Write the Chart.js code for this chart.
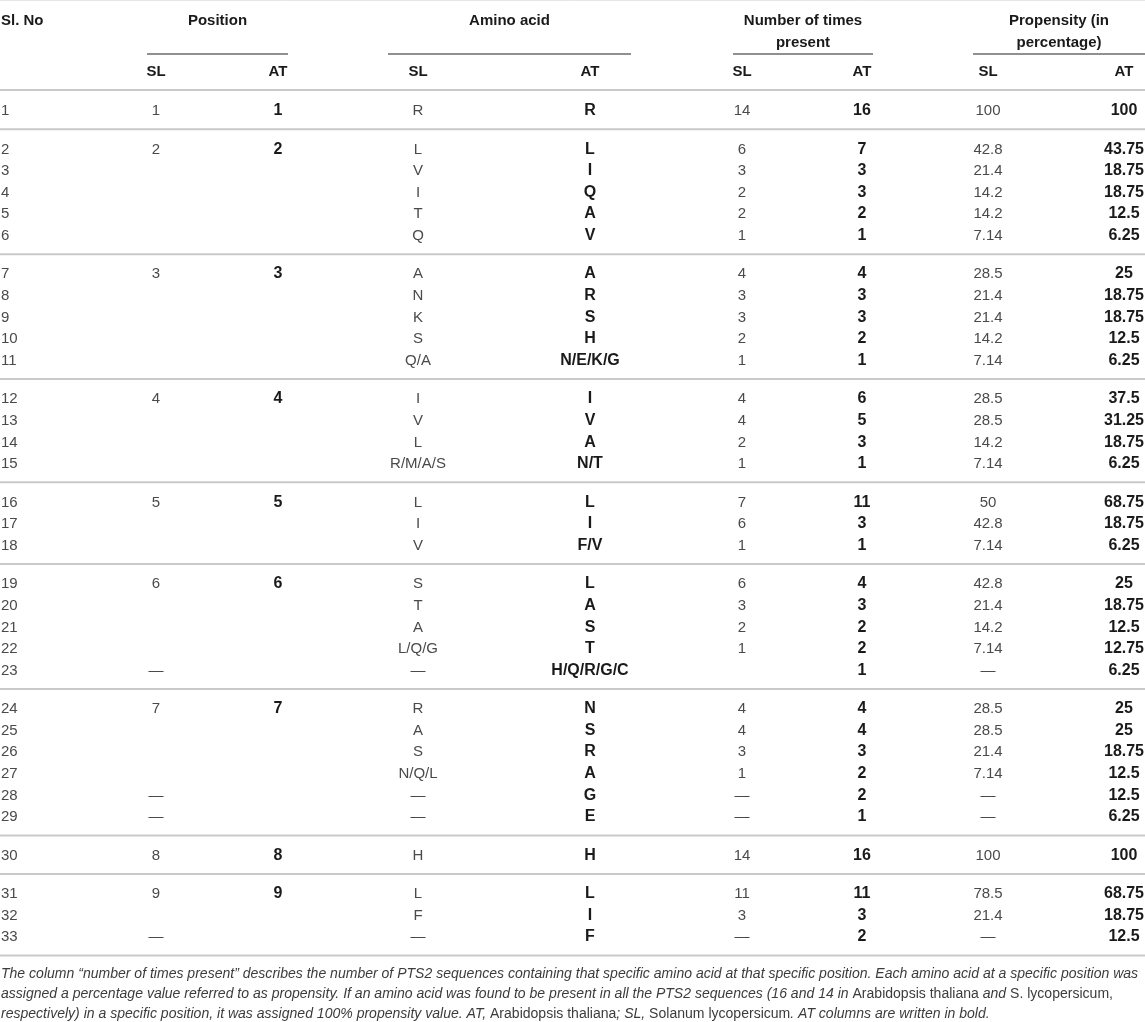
<!DOCTYPE html>
<html>
<head>
<meta charset="utf-8">
<script src="https://cdn.jsdelivr.net/npm/chart.js"></script>
<style>
  html, body { margin: 0; padding: 0; background: #ffffff; }
  #wrap { position: relative; width: 1145px; height: 1022px; }
</style>
</head>
<body>
<div id="wrap"><canvas id="c"></canvas></div>
<script>
// ---------------- DATA ----------------
const slNo    = ["1","2","3","4","5","6","7","8","9","10","11","12","13","14","15","16","17","18","19","20","21","22","23","24","25","26","27","28","29","30","31","32","33"];
const rowGroup = [0,1,1,1,1,1,2,2,2,2,2,3,3,3,3,4,4,4,5,5,5,5,5,6,6,6,6,6,6,7,8,8,8];
const posSL   = ["1","2","","","","","3","","","","","4","","","","5","","","6","","","","—","7","","","","—","—","8","9","","—"];
const posAT   = ["1","2","","","","","3","","","","","4","","","","5","","","6","","","","","7","","","","","","8","9","",""];
const aaSL    = ["R","L","V","I","T","Q","A","N","K","S","Q/A","I","V","L","R/M/A/S","L","I","V","S","T","A","L/Q/G","—","R","A","S","N/Q/L","—","—","H","L","F","—"];
const aaAT    = ["R","L","I","Q","A","V","A","R","S","H","N/E/K/G","I","V","A","N/T","L","I","F/V","L","A","S","T","H/Q/R/G/C","N","S","R","A","G","E","H","L","I","F"];
const countSL = ["14","6","3","2","2","1","4","3","3","2","1","4","4","2","1","7","6","1","6","3","2","1","","4","4","3","1","—","—","14","11","3","—"];
const countAT = ["16","7","3","3","2","1","4","3","3","2","1","6","5","3","1","11","3","1","4","3","2","2","1","4","4","3","2","2","1","16","11","3","2"];
const propSL  = ["100","42.8","21.4","14.2","14.2","7.14","28.5","21.4","21.4","14.2","7.14","28.5","28.5","14.2","7.14","50","42.8","7.14","42.8","21.4","14.2","7.14","—","28.5","28.5","21.4","7.14","—","—","100","78.5","21.4","—"];
const propAT  = ["100","43.75","18.75","18.75","12.5","6.25","25","18.75","18.75","12.5","6.25","37.5","31.25","18.75","6.25","68.75","18.75","6.25","25","18.75","12.5","12.75","6.25","25","25","18.75","12.5","12.5","6.25","100","68.75","18.75","12.5"];

const groupHeaders = ["Position","Amino acid","Number of times|present","Propensity (in|percentage)"];
const subHeaders   = ["SL","AT"];
const firstHeader  = "Sl. No";

const footnoteLines = [
  [["i","The column “number of times present” describes the number of PTS2 sequences containing that specific amino acid at that specific position. Each amino acid at a specific position was"]],
  [["i","assigned a percentage value referred to as propensity. If an amino acid was found to be present in all the PTS2 sequences (16 and 14 in "],["n","Arabidopsis thaliana"],["i"," and "],["n","S. lycopersicum,"]],
  [["i","respectively) in a specific position, it was assigned 100% propensity value. AT, "],["n","Arabidopsis thaliana"],["i","; SL, "],["n","Solanum lycopersicum"],["i",". AT columns are written in bold."]]
];

// ---------------- LAYOUT (styles / positions) ----------------
const W = 1145, H = 1022;
const colX = { sl: 1, posSL: 156, posAT: 278, aaSL: 418, aaAT: 590, nSL: 742, nAT: 862, pSL: 988, pAT: 1124 };
const groupSpans = [[147,288],[388,631],[733,873],[973,1145]];
const ROW0 = 115, ROWSTEP = 21.6, GROUPGAP = 16.9;
const rowY = i => ROW0 + i * ROWSTEP + rowGroup[i] * GROUPGAP;

const FAM = '"Liberation Sans", Arial, Helvetica, sans-serif';
const lightFont = '15px ' + FAM;
const boldBodyFont = 'bold 16px ' + FAM;
const boldFont  = 'bold 15px ' + FAM;
const lightColor = '#4a4a4a';
const boldColor = '#1a1a1a';

function textSet(label, texts, x, font, color, align) {
  const pts = [], tx = [];
  texts.forEach((t, i) => { if (t !== "") { pts.push({ x: x, y: rowY(i) }); tx.push(t); } });
  return { label, data: pts, texts: tx, textFont: font, textColor: color, textAlign: align,
           pointRadius: 0, showLine: false, borderWidth: 0 };
}
function lineSet(x1, x2, y, color, width) {
  return { label: 'rule', data: [{ x: x1, y: y }, { x: x2, y: y }], showLine: true, borderColor: color,
           borderWidth: width, pointRadius: 0, fill: false, tension: 0 };
}

const datasets = [];
// horizontal rules
datasets.push(lineSet(0, W, 0.5, '#e6e6e6', 1));
datasets.push(lineSet(0, W, 90, '#c9c9c9', 2));
for (let i = 0; i < rowGroup.length - 1; i++) {
  if (rowGroup[i] !== rowGroup[i + 1]) {
    datasets.push(lineSet(0, W, (rowY(i) + rowY(i + 1)) / 2 - 5, '#c9c9c9', 2));
  }
}
datasets.push(lineSet(0, W, rowY(rowGroup.length - 1) + 14, '#c9c9c9', 2));
groupSpans.forEach(s => datasets.push(lineSet(s[0], s[1], 54, '#222222', 1.2)));

// body columns
datasets.push(textSet('Sl. No', slNo, colX.sl, lightFont, lightColor, 'left'));
datasets.push(textSet('Position SL', posSL, colX.posSL, lightFont, lightColor, 'center'));
datasets.push(textSet('Position AT', posAT, colX.posAT, boldBodyFont, boldColor, 'center'));
datasets.push(textSet('Amino acid SL', aaSL, colX.aaSL, lightFont, lightColor, 'center'));
datasets.push(textSet('Amino acid AT', aaAT, colX.aaAT, boldBodyFont, boldColor, 'center'));
datasets.push(textSet('Count SL', countSL, colX.nSL, lightFont, lightColor, 'center'));
datasets.push(textSet('Count AT', countAT, colX.nAT, boldBodyFont, boldColor, 'center'));
datasets.push(textSet('Propensity SL', propSL, colX.pSL, lightFont, lightColor, 'center'));
datasets.push(textSet('Propensity AT', propAT, colX.pAT, boldBodyFont, boldColor, 'center'));

// headers as a text dataset
const hdrPts = [], hdrTx = [];
hdrPts.push({ x: 1, y: 25 }); hdrTx.push(firstHeader);
groupHeaders.forEach((h, gi) => {
  const cx = (groupSpans[gi][0] + groupSpans[gi][1]) / 2;
  h.split('|').forEach((line, li) => { hdrPts.push({ x: cx, y: 25 + li * 22 }); hdrTx.push(line); });
});
datasets.push({ label: 'headers', data: hdrPts, texts: hdrTx, textFont: boldFont, textColor: boldColor,
  textAlignFn: i => (i === 0 ? 'left' : 'center'), pointRadius: 0, showLine: false });
const subPts = [], subTx = [];
[[colX.posSL, colX.posAT],[colX.aaSL, colX.aaAT],[colX.nSL, colX.nAT],[colX.pSL, colX.pAT]].forEach(pair => {
  pair.forEach((x, k) => { subPts.push({ x: x, y: 76 }); subTx.push(subHeaders[k]); });
});
datasets.push({ label: 'subheaders', data: subPts, texts: subTx, textFont: boldFont, textColor: boldColor,
  textAlign: 'center', pointRadius: 0, showLine: false });

const textPlugin = {
  id: 'tableText',
  afterDatasetsDraw(chart) {
    const ctx = chart.ctx;
    ctx.save();
    ctx.textBaseline = 'alphabetic';
    chart.data.datasets.forEach((ds, di) => {
      if (!ds.texts) return;
      const meta = chart.getDatasetMeta(di);
      ctx.font = ds.textFont;
      ctx.fillStyle = ds.textColor;
      meta.data.forEach((pt, i) => {
        ctx.textAlign = ds.textAlignFn ? ds.textAlignFn(i) : ds.textAlign;
        ctx.fillText(ds.texts[i], pt.x, pt.y);
      });
    });
    // footnote
    const ys = chart.scales.y, xs = chart.scales.x;
    const fam = FAM;
    let size = 14;
    ctx.font = 'italic ' + size + 'px ' + fam;
    const w1 = ctx.measureText(footnoteLines[0][0][1]).width;
    size = size * 1138 / w1;
    const baselines = [978, 998, 1018];
    ctx.fillStyle = '#3c3c3c';
    ctx.textAlign = 'left';
    footnoteLines.forEach((runs, li) => {
      let x = xs.getPixelForValue(1);
      const y = ys.getPixelForValue(baselines[li]);
      runs.forEach(r => {
        ctx.font = (r[0] === 'i' ? 'italic ' : '') + size.toFixed(2) + 'px ' + fam;
        ctx.fillText(r[1], x, y);
        x += ctx.measureText(r[1]).width;
      });
    });
    ctx.restore();
  }
};

new Chart(document.getElementById('c'), {
  type: 'scatter',
  data: { datasets },
  options: {
    responsive: true,
    maintainAspectRatio: false,
    animation: false,
    events: [],
    layout: { padding: 0 },
    plugins: { legend: { display: false }, tooltip: { enabled: false } },
    scales: {
      x: { type: 'linear', min: 0, max: W, display: false },
      y: { type: 'linear', min: 0, max: H, reverse: true, display: false }
    }
  },
  plugins: [textPlugin]
});
</script>
</body>
</html>
